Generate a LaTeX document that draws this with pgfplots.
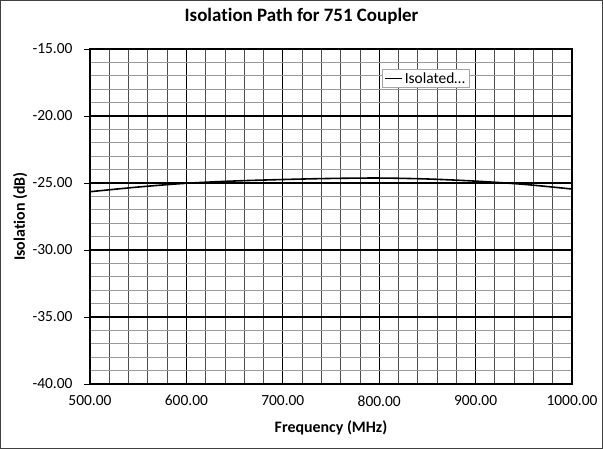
\documentclass[border=0pt]{standalone}
\usepackage{pgfplots}
\pgfplotsset{compat=1.18}
\usepackage{fontspec}
\setmainfont{Carlito}[Ligatures=NoCommon]
\begin{document}
\begin{tikzpicture}
\begin{axis}[
  at={(0,0)}, anchor=south west,
  scale only axis,
  width=482bp, height=335bp,
  xmin=500, xmax=1000, ymin=-40, ymax=-15,
  xtick={500,600,700,800,900,1000},
  xticklabels={500.00,600.00,700.00,800.00,900.00,1000.00},
  ytick={-40,-35,-30,-25,-20,-15},
  yticklabels={-40.00,-35.00,-30.00,-25.00,-20.00,-15.00},
  minor x tick num=4, minor y tick num=4,
  grid=both,
  major grid style={black, line width=1.1pt},
  minor x grid style={black!70, line width=0.8pt},
  minor y grid style={black!40, line width=0.8pt},
  axis line style={black, line width=1.3pt},
  tick align=outside,
  ytick pos=left, xtick pos=bottom,
  major tick length=6bp,
  minor tick length=0pt,
  xtick style={draw=none},
  ytick style={black, line width=0.8pt},
  ticklabel style={font=\fontsize{15.5}{18}\selectfont},
  xticklabel style={yshift=-2bp},
  yticklabel style={xshift=-8bp},
  xlabel={Frequency (MHz)},
  ylabel={Isolation (dB)},
  label style={font=\fontsize{16}{19}\selectfont\bfseries},
  xlabel style={at={(axis description cs:0.5,0)}, anchor=center, yshift=-44bp},
  ylabel style={at={(axis description cs:-0.145,0.5)}, anchor=center},
  title={Isolation Path for 751 Coupler},
  title style={font=\fontsize{19}{22}\selectfont\bfseries, at={(axis description cs:0.5,1)}, anchor=center, yshift=27bp, xshift=-29.5bp},
  legend style={at={(rel axis cs:0.606,0.94)}, anchor=north west, draw=black!35, fill=white, font=\fontsize{15.5}{18}\selectfont, inner xsep=2bp, inner ysep=1bp, row sep=0pt},
  legend cell align=left,
  legend image code/.code={\draw[black, line width=1.5pt] (0bp,0bp) -- (17bp,0bp);},
]
\addplot[black, line width=1.6pt, smooth] coordinates {
(500,-25.65) (550,-25.30) (600,-25.02) (650,-24.85) (700,-24.74) (750,-24.66) (800,-24.63) (850,-24.70) (900,-24.86) (950,-25.10) (1000,-25.45)
};
\addlegendentry{Isolated…}
\end{axis}
\draw[black!75, line width=1bp] (-89.5bp,-64.5bp) rectangle (512.5bp,383.5bp);
\useasboundingbox (-90bp,-65bp) rectangle (513bp,384bp);
\end{tikzpicture}
\end{document}
